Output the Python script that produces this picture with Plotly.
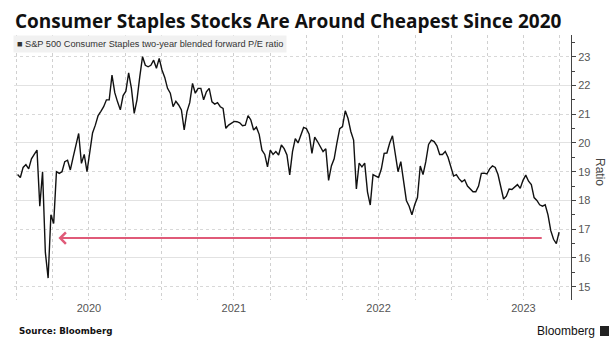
import pandas as pd
import plotly.graph_objects as go

# Weekly S&P 500 Consumer Staples two-year blended forward P/E
start_date = "2020-01-03"
pe_values = [
    18.9, 18.8, 19.15, 19.25, 19.1, 19.45, 19.6, 19.75, 17.8, 19.0,
    16.2, 15.3, 17.5, 17.2, 19.0, 18.94, 19.0, 19.35, 19.4, 19.06,
    19.5, 19.87, 20.33, 19.29, 19.6, 19.0, 19.7, 20.35, 20.62, 20.95,
    21.1, 21.26, 21.5, 21.5, 22.36, 21.75, 21.43, 21.15, 21.65, 21.8,
    22.44, 21.9, 21.03, 21.5, 22.3, 23.0, 22.7, 22.65, 22.7, 22.88,
    22.6, 22.94, 22.54, 22.28, 21.9, 21.73, 21.26, 21.45, 21.32, 21.15,
    20.45, 21.09, 21.4, 22.07, 21.73, 21.9, 21.9, 21.5, 21.78, 21.9,
    21.43, 21.35, 21.4, 21.26, 21.2, 20.51, 20.62, 20.7, 20.75, 20.74,
    20.7, 20.6, 20.62, 20.95, 20.8, 20.45, 20.55, 20.3, 19.75, 19.6,
    19.17, 19.75, 19.6, 19.7, 19.58, 19.93, 19.8, 19.58, 18.89, 19.7,
    20.15, 20.0, 20.25, 20.54, 20.5, 20.3, 19.64, 20.2, 20.05, 19.87,
    19.7, 19.8, 18.7, 19.2, 19.45, 20.0, 20.5, 20.57, 21.12, 20.85,
    20.4, 20.1, 18.4, 19.3, 19.17, 19.3, 18.3, 17.84, 18.9, 18.85,
    18.8, 19.1, 19.64, 19.65, 20.0, 20.25, 19.6, 19.0, 19.35, 18.6,
    18.0, 17.8, 17.5, 17.85, 18.1, 19.2, 18.9, 19.35, 19.95, 20.1,
    20.05, 19.9, 19.6, 19.6, 19.7, 19.5, 19.2, 18.85, 18.9, 18.75,
    18.65, 18.72, 18.5, 18.4, 18.3, 18.3, 18.5, 18.94, 18.95, 18.92,
    19.1, 19.2, 19.15, 18.9, 18.45, 18.05, 18.15, 18.4, 18.38, 18.45,
    18.55, 18.42, 18.7, 18.88, 18.67, 18.55, 18.1, 18.0, 17.85, 17.8,
    17.85, 17.5, 16.95, 16.65, 16.5, 16.9,
]
dates = pd.date_range(start_date, periods=len(pe_values), freq="W-FRI")

arrow_level = 16.69
arrow_head_date = "2020-04-15"
arrow_tail_date = "2023-08-20"

years = ["2020", "2021", "2022", "2023"]
y_ticks = list(range(15, 24))

quarter_ticks = pd.date_range("2020-01-01", "2023-10-01", freq="QS")
quarter_text = [str(d.year) if d.month == 7 else "" for d in quarter_ticks]

fig = go.Figure()
# invisible trace on overlay axis for solid even gridlines
fig.add_trace(go.Scatter(x=[dates[0]], y=[pe_values[0]], yaxis="y2",
                         mode="markers", marker=dict(opacity=0),
                         showlegend=False, hoverinfo="skip"))
fig.add_trace(go.Scatter(
    x=dates, y=pe_values, mode="lines", yaxis="y",
    line=dict(color="#111111", width=1.4),
    name="S&P 500 Consumer Staples two-year blended forward P/E ratio",
    showlegend=False, hoverinfo="skip",
))

yr = [14.537, 23.755]
fig.update_layout(
    width=615, height=354,
    margin=dict(l=14, r=44, t=35, b=54),
    paper_bgcolor="white", plot_bgcolor="white",
    title=dict(text="<b>Consumer Staples Stocks Are Around Cheapest Since 2020</b>",
               xref="container", yref="container", x=15/615, xanchor="left",
               y=1-21/354, yanchor="middle",
               font=dict(family="Open Sans", size=19, color="#111111")),
    xaxis=dict(
        range=["2019-12-25", "2023-10-29"],
        tickvals=list(quarter_ticks), ticktext=quarter_text,
        showgrid=True, griddash="dot", gridcolor="#d0d0d0", gridwidth=1,
        ticks="", showline=False, zeroline=False,
        tickfont=dict(family="Liberation Sans", size=11, color="#555555"),
    ),
    yaxis=dict(
        side="right", range=yr, tickvals=y_ticks,
        showgrid=True, griddash="dot", gridcolor="#d8d8d8", gridwidth=1,
        ticks="outside", ticklen=4, tickcolor="#444444", tickwidth=1,
        showline=True, linecolor="#444444", linewidth=1, zeroline=False,
        minor=dict(dtick=0.5, tick0=15, ticks="outside", ticklen=3,
                   tickcolor="#444444", showgrid=False),
        tickfont=dict(family="Liberation Sans", size=11, color="#555555"),
    ),
    yaxis2=dict(
        overlaying="y", side="right", range=yr, tickvals=[16, 18, 20, 22],
        showgrid=True, gridcolor="#e2e2e2", gridwidth=1, showticklabels=False,
        ticks="", showline=False, zeroline=False,
    ),
)

fig.add_annotation(
    x=arrow_head_date, y=arrow_level, ax=arrow_tail_date, ay=arrow_level,
    xref="x", yref="y2", axref="x", ayref="y2", text="", showarrow=True,
    arrowhead=4, arrowsize=1.1, arrowwidth=2, arrowcolor="#e05a78", standoff=0,
)
fig.add_annotation(
    text="■ S&P 500 Consumer Staples two-year blended forward P/E ratio",
    xref="paper", yref="paper", x=-0.002, y=1.0, xanchor="left", yanchor="top",
    showarrow=False, bgcolor="#f1f1f1", borderpad=3,
    font=dict(family="Liberation Sans", size=9.2, color="#333333"),
)
fig.add_annotation(
    text="Ratio", textangle=90, xref="paper", yref="paper",
    x=(600-14)/557, y=(300-172)/265, xanchor="center", yanchor="middle",
    showarrow=False, font=dict(family="Liberation Sans", size=12, color="#444444"),
)
fig.add_annotation(
    text="<b>Source: Bloomberg</b>", xref="paper", yref="paper",
    x=(17-14)/557, y=(300-331)/265, xanchor="left", yanchor="middle",
    showarrow=False, font=dict(family="DejaVu Sans", size=8.7, color="#111111"),
)
fig.add_annotation(
    text="Bloomberg", xref="paper", yref="paper",
    x=(597-14)/557, y=(300-331)/265, xanchor="right", yanchor="middle",
    showarrow=False, font=dict(family="Liberation Sans", size=12, color="#111111"),
)
fig.add_shape(type="rect", xref="paper", yref="paper",
              x0=(600-14)/557, x1=(609-14)/557,
              y0=(300-336)/265, y1=(300-326)/265,
              fillcolor="#222222", line=dict(width=0))

fig.write_html("out.html")
